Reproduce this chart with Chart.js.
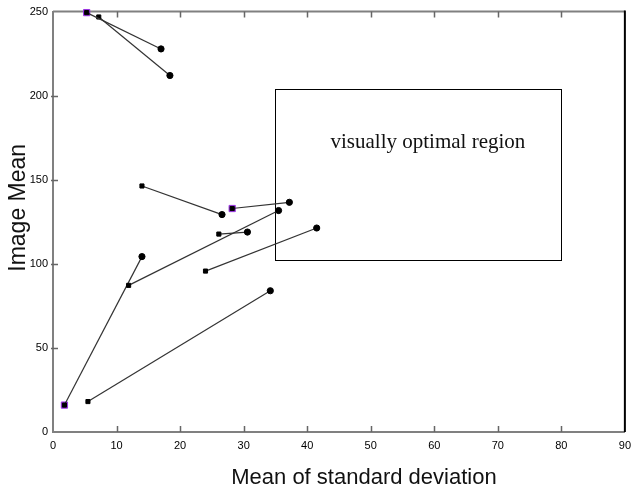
<!DOCTYPE html>
<html><head><meta charset="utf-8">
<script src="https://cdn.jsdelivr.net/npm/chart.js@4/dist/chart.umd.min.js"></script>
<style>html,body{margin:0;padding:0;background:#fff;}#wrap{width:638px;height:490px;}</style>
</head><body><div id="wrap"><canvas id="c" width="638" height="490"></canvas></div>
<script>
// Each pair: start point (square) -> end point (circle)
const startX = [5.3, 7.2, 14.0, 28.2, 26.1, 11.9, 24.0, 1.8, 5.5];
const startY = [249.4, 246.8, 146.3, 132.9, 117.7, 87.2, 95.7, 16.0, 18.1];
const endX   = [17.0, 18.4, 26.6, 37.2, 30.6, 35.5, 41.5, 14.0, 34.2];
const endY   = [227.8, 212.0, 129.3, 136.6, 118.9, 131.7, 121.3, 104.3, 84.0];
const highlighted = [0, 3, 7];
const xTicks = [0, 10, 20, 30, 40, 50, 60, 70, 80, 90];
const yTicks = [0, 50, 100, 150, 200, 250];
const regionX = [35, 80];
const regionY = [102, 204];
const regionLabel = 'visually optimal region';
const regionLabelAt = [59, 172];
const xTitle = 'Mean of standard deviation';
const yTitle = 'Image Mean';

const datasets = startX.map((sx, i) => ({
  data: [{x: sx, y: startY[i]}, {x: endX[i], y: endY[i]}],
  showLine: true,
  clip: false,
  borderColor: '#333',
  borderWidth: 1.2,
  pointStyle: ['rect', 'circle'],
  pointRadius: [2.9, 3.1],
  pointBackgroundColor: '#000',
  pointBorderColor: '#000',
  pointBorderWidth: 1,
  order: 0
}));
datasets.push({
  data: highlighted.map(i => ({x: startX[i], y: startY[i]})),
  showLine: false,
  clip: false,
  pointStyle: 'rect',
  pointRadius: 4.4,
  pointBackgroundColor: '#9a35e0',
  pointBorderColor: '#9a35e0',
  pointBorderWidth: 1,
  order: 1
});

const FONT = '"Liberation Sans", Arial, sans-serif';

const frame = {
  id: 'frame',
  beforeDatasetsDraw(chart) {
    const {ctx, chartArea: a, scales: {x, y}} = chart;
    ctx.save();
    // region rectangle
    const x0 = Math.round(x.getPixelForValue(regionX[0])) + 0.5;
    const x1 = Math.round(x.getPixelForValue(regionX[1])) + 0.5;
    const y0 = Math.round(y.getPixelForValue(regionY[1])) + 0.5;
    const y1 = Math.round(y.getPixelForValue(regionY[0])) + 0.5;
    ctx.strokeStyle = '#000';
    ctx.lineWidth = 1;
    ctx.strokeRect(x0, y0, x1 - x0, y1 - y0);
    ctx.font = '21px "Liberation Serif", "Times New Roman", serif';
    ctx.fillStyle = '#111';
    ctx.textAlign = 'center';
    ctx.textBaseline = 'middle';
    ctx.fillText(regionLabel, x.getPixelForValue(regionLabelAt[0]), y.getPixelForValue(regionLabelAt[1]));
    // top border
    ctx.strokeStyle = '#808080';
    ctx.lineWidth = 2;
    ctx.beginPath();
    ctx.moveTo(a.left, a.top); ctx.lineTo(a.right, a.top);
    ctx.stroke();
    // right border
    ctx.strokeStyle = '#000';
    ctx.beginPath();
    ctx.moveTo(a.right, a.top - 1); ctx.lineTo(a.right, a.bottom);
    ctx.stroke();
    // inward ticks
    ctx.strokeStyle = '#666';
    ctx.lineWidth = 1.5;
    ctx.beginPath();
    xTicks.forEach(v => {
      if (v === xTicks[0] || v === xTicks[xTicks.length - 1]) return;
      const px = Math.round(x.getPixelForValue(v)) + 0.5;
      ctx.moveTo(px, a.bottom); ctx.lineTo(px, a.bottom - 6);
      ctx.moveTo(px, a.top); ctx.lineTo(px, a.top + 6);
    });
    yTicks.forEach(v => {
      if (v === yTicks[0] || v === yTicks[yTicks.length - 1]) return;
      const py = Math.round(y.getPixelForValue(v)) + 0.5;
      ctx.moveTo(a.left - 2, py); ctx.lineTo(a.left + 5, py);
    });
    ctx.stroke();
    ctx.restore();
  },
  afterDraw(chart) {
    const {ctx, chartArea: a} = chart;
    ctx.save();
    ctx.fillStyle = '#111';
    ctx.textAlign = 'center';
    ctx.textBaseline = 'alphabetic';
    ctx.font = '22px ' + FONT;
    ctx.fillText(xTitle, (a.left + a.right) / 2 + 25, 484);
    ctx.translate(25, (a.top + a.bottom) / 2 - 14);
    ctx.rotate(-Math.PI / 2);
    ctx.font = '23px ' + FONT;
    ctx.fillText(yTitle, 0, 0);
    ctx.restore();
  }
};

new Chart(document.getElementById('c'), {
  type: 'scatter',
  data: {datasets},
  options: {
    responsive: false,
    animation: false,
    devicePixelRatio: 1,
    layout: {padding: {top: 10, right: 8, left: 0, bottom: 0}},
    plugins: {legend: {display: false}, tooltip: {enabled: false}},
    scales: {
      x: {
        type: 'linear', min: 0, max: 90,
        afterBuildTicks: s => { s.ticks = xTicks.map(v => ({value: v})); },
        ticks: {font: {family: FONT, size: 11}, color: '#000', padding: 7, maxRotation: 0, autoSkip: false},
        grid: {display: false, drawTicks: false},
        border: {display: true, color: '#808080', width: 2},
        afterFit: s => { s.height = 58; }
      },
      y: {
        type: 'linear', min: 0, max: 250,
        afterBuildTicks: s => { s.ticks = yTicks.map(v => ({value: v})); },
        ticks: {font: {family: FONT, size: 11}, color: '#000', padding: 5, autoSkip: false},
        grid: {display: false, drawTicks: false},
        border: {display: true, color: '#808080', width: 2},
        afterFit: s => { s.width = 53; }
      }
    }
  },
  plugins: [frame]
});
</script>
</body></html>
